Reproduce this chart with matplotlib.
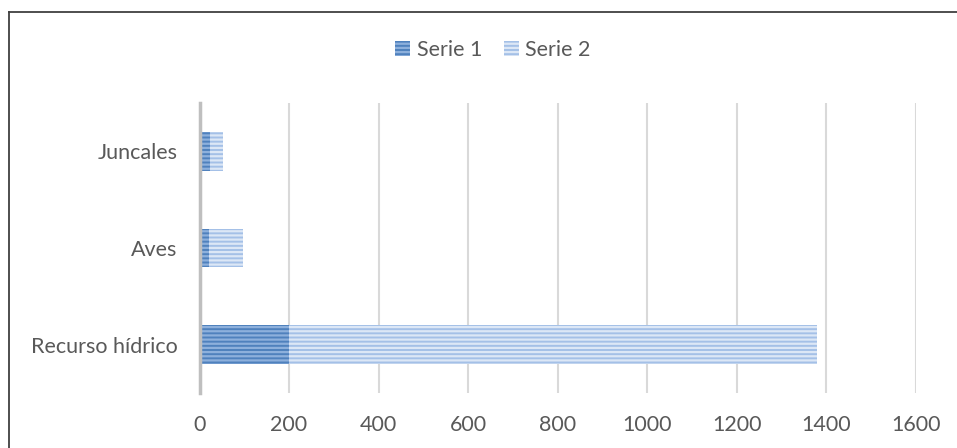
import matplotlib
matplotlib.use("Agg")
import matplotlib.pyplot as plt
from matplotlib.patches import Patch
from matplotlib.lines import Line2D

categories = ["Recurso hídrico", "Aves", "Juncales"]
serie1 = [200, 22, 24]
serie2 = [1180, 75, 28]
xticks = [0, 200, 400, 600, 800, 1000, 1200, 1400, 1600]
series_names = ["Serie 1", "Serie 2"]

plt.rcParams['font.family'] = ['Lato', 'DejaVu Sans']
plt.rcParams['hatch.linewidth'] = 1.6

fig = plt.figure(figsize=(9.57, 4.48), dpi=100)
ax = fig.add_axes([0.2085, 0.123, 0.7483, 0.647])

c1_face, c1_hatch = "#4f81bd", "#8db0dc"
c2_face, c2_hatch = "#a4c0e7", "#dce7f6"

ypos = list(range(len(categories)))
h = 0.40
ax.barh(ypos, serie1, height=h, color=c1_face, edgecolor=c1_hatch, hatch='----', linewidth=0)
ax.barh(ypos, serie2, left=serie1, height=h, color=c2_face, edgecolor=c2_hatch, hatch='----', linewidth=0)

ax.set_xlim(0, 1600)
ax.set_ylim(-0.5, len(categories) - 0.5)
ax.set_xticks(xticks)
ax.set_yticks(ypos)
ax.set_yticklabels(categories)
ax.tick_params(axis='both', length=0, labelsize=15.5, colors="#595959")
ax.tick_params(axis='y', pad=16)
ax.tick_params(axis='x', pad=16)
ax.xaxis.grid(True, color="#d9d9d9", linewidth=1.5)
ax.set_axisbelow(True)
for s in ["top", "right", "bottom"]:
    ax.spines[s].set_visible(False)
ax.spines["left"].set_color("#bfbfbf")
ax.spines["left"].set_linewidth(2.5)

handles = [Patch(facecolor=c1_face, edgecolor=c1_hatch, hatch='----', linewidth=0),
           Patch(facecolor=c2_face, edgecolor=c2_hatch, hatch='----', linewidth=0)]
fig.legend(handles, series_names, loc='center', bbox_to_anchor=(0.515, 0.888), ncol=2,
           frameon=False, fontsize=15.5, labelcolor="#595959", handlelength=0.7,
           handleheight=0.7, handletextpad=0.3, columnspacing=1.0)

# outer chart border (top and left visible)
fig.add_artist(Line2D([9/957, 1.0], [1 - 12.5/448, 1 - 12.5/448], transform=fig.transFigure,
                      color="#404040", linewidth=1.3))
fig.add_artist(Line2D([9/957, 9/957], [0, 1 - 12.5/448], transform=fig.transFigure,
                      color="#404040", linewidth=1.3))

fig.savefig("out.png", dpi=100)
